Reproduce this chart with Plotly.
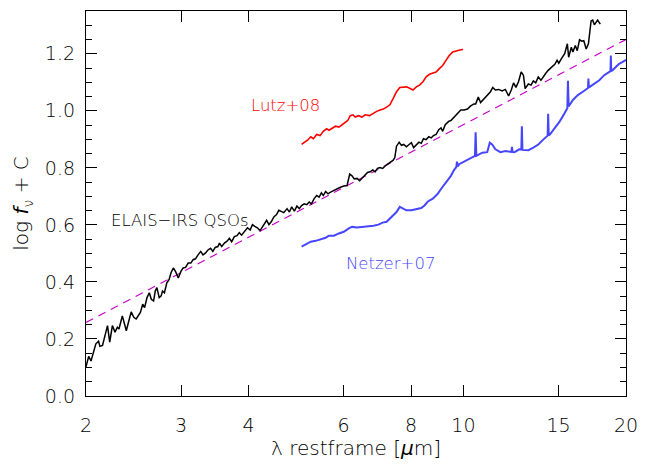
import math
import plotly.graph_objects as go

# ELAIS-IRS QSO composite spectrum (log f_nu + C vs restframe wavelength in micron)
elais_lambda = [
    2.000, 2.023, 2.043, 2.063, 2.086, 2.110, 2.122, 2.146, 2.170, 2.192,
    2.213, 2.238, 2.263, 2.286, 2.302, 2.335, 2.361, 2.375, 2.401, 2.425,
    2.452, 2.477, 2.522, 2.547, 2.568, 2.594, 2.620, 2.642, 2.668, 2.687,
    2.706, 2.733, 2.756, 2.771, 2.794, 2.823, 2.850, 2.874, 2.902, 2.932,
    2.964, 2.998, 3.027, 3.058, 3.092, 3.127, 3.158, 3.190, 3.225, 3.262,
    3.294, 3.327, 3.364, 3.402, 3.435, 3.470, 3.509, 3.534, 3.568, 3.609,
    3.650, 3.686, 3.722, 3.765, 3.808, 3.845, 3.882, 3.927, 3.982, 4.027,
    4.067, 4.108, 4.153, 4.201, 4.242, 4.285, 4.321, 4.363, 4.406, 4.456,
    4.507, 4.551, 4.596, 4.648, 4.713, 4.761, 4.808, 4.863, 4.916, 4.966,
    5.015, 5.072, 5.128, 5.180, 5.231, 5.291, 5.349, 5.403, 5.456, 5.502,
    5.556, 5.612, 5.674, 5.739, 5.819, 5.918, 6.004, 6.088, 6.158, 6.218,
    6.278, 6.350, 6.423, 6.513, 6.576, 6.643, 6.717, 6.793, 6.860, 6.929,
    7.006, 7.086, 7.185, 7.308, 7.413, 7.463, 7.517, 7.603, 7.677, 7.752,
    7.841, 7.931, 8.008, 8.086, 8.179, 8.272, 8.353, 8.434, 8.531, 8.628,
    8.713, 8.798, 8.898, 9.000, 9.088, 9.153, 9.254, 9.388, 9.479, 9.612,
    9.751, 9.888, 10.027, 10.172, 10.314, 10.458, 10.534, 10.654, 10.758, 10.909,
    11.067, 11.222, 11.332, 11.461, 11.622, 11.790, 11.956, 12.124, 12.263, 12.382,
    12.508, 12.646, 12.791, 12.915, 13.008, 13.191, 13.342, 13.472, 13.609, 13.759,
    13.916, 14.052, 14.195, 14.351, 14.559, 14.763, 14.907, 15.015, 15.186, 15.399,
    15.575, 15.661, 15.840, 15.948, 16.110, 16.246, 16.405, 16.564, 16.705, 16.875,
    17.039, 17.234, 17.351, 17.476, 17.601, 17.721, 17.923,
]
elais_logf = [
    0.102, 0.139, 0.123, 0.148, 0.183, 0.192, 0.174, 0.177, 0.212, 0.247,
    0.189, 0.247, 0.224, 0.241, 0.235, 0.281, 0.247, 0.229, 0.264, 0.295,
    0.276, 0.270, 0.293, 0.322, 0.310, 0.345, 0.362, 0.339, 0.333, 0.368,
    0.380, 0.345, 0.351, 0.368, 0.362, 0.397, 0.408, 0.432, 0.449, 0.435,
    0.414, 0.437, 0.449, 0.451, 0.466, 0.466, 0.478, 0.481, 0.495, 0.507,
    0.495, 0.501, 0.512, 0.518, 0.507, 0.521, 0.524, 0.536, 0.524, 0.536,
    0.543, 0.553, 0.541, 0.559, 0.562, 0.573, 0.564, 0.576, 0.590, 0.582,
    0.601, 0.595, 0.590, 0.580, 0.593, 0.605, 0.616, 0.601, 0.611, 0.628,
    0.636, 0.651, 0.648, 0.643, 0.657, 0.645, 0.663, 0.648, 0.666, 0.657,
    0.668, 0.674, 0.671, 0.680, 0.674, 0.692, 0.703, 0.697, 0.712, 0.703,
    0.717, 0.709, 0.715, 0.720, 0.726, 0.732, 0.736, 0.738, 0.778, 0.772,
    0.761, 0.763, 0.755, 0.767, 0.772, 0.784, 0.786, 0.793, 0.786, 0.798,
    0.801, 0.798, 0.809, 0.819, 0.827, 0.836, 0.876, 0.890, 0.879, 0.882,
    0.874, 0.882, 0.888, 0.871, 0.882, 0.890, 0.886, 0.902, 0.899, 0.909,
    0.905, 0.913, 0.917, 0.934, 0.940, 0.928, 0.951, 0.963, 0.966, 0.978,
    0.994, 1.003, 1.003, 1.006, 1.017, 1.024, 1.024, 1.048, 1.029, 1.041,
    1.055, 1.067, 1.082, 1.073, 1.075, 1.070, 1.075, 1.052, 1.073, 1.098,
    1.082, 1.102, 1.136, 1.125, 1.078, 1.094, 1.090, 1.105, 1.098, 1.119,
    1.107, 1.121, 1.131, 1.142, 1.151, 1.163, 1.177, 1.167, 1.183, 1.200,
    1.235, 1.188, 1.223, 1.206, 1.229, 1.211, 1.249, 1.244, 1.246, 1.217,
    1.235, 1.315, 1.318, 1.302, 1.310, 1.318, 1.304,
]

# Lutz et al. 2008 template
lutz_lambda = [
    5.015, 5.072, 5.143, 5.215, 5.275, 5.349, 5.426, 5.502, 5.579, 5.637,
    5.716, 5.795, 5.879, 5.961, 6.044, 6.106, 6.173, 6.244, 6.305, 6.396,
    6.486, 6.576, 6.700, 6.814, 6.909, 7.006, 7.107, 7.206, 7.308, 7.413,
    7.517, 7.622, 7.733, 7.841, 7.951, 8.065, 8.179, 8.293, 8.413, 8.531,
    8.650, 8.775, 8.898, 9.023, 9.153, 9.283, 9.413, 9.550, 9.683, 9.794,
    9.888, 9.986,
]
lutz_logf = [
    0.882, 0.888, 0.897, 0.909, 0.902, 0.917, 0.913, 0.928, 0.937, 0.932,
    0.940, 0.946, 0.943, 0.951, 0.957, 0.966, 0.983, 0.986, 0.978, 0.983,
    0.978, 0.986, 0.983, 0.992, 0.998, 1.003, 1.006, 1.013, 1.021, 1.044,
    1.067, 1.082, 1.082, 1.084, 1.079, 1.073, 1.084, 1.090, 1.102, 1.119,
    1.128, 1.131, 1.136, 1.148, 1.159, 1.177, 1.194, 1.206, 1.209, 1.214,
    1.214, 1.215,
]

# Netzer et al. 2007 template (with fine-structure emission lines)
netzer_lambda = [
    5.015, 5.106, 5.215, 5.326, 5.440, 5.556, 5.637, 5.756, 5.879, 6.004,
    6.132, 6.218, 6.350, 6.532, 6.671, 6.814, 6.959, 7.086, 7.206, 7.360,
    7.517, 7.622, 7.710, 7.841, 8.008, 8.179, 8.353, 8.470, 8.592, 8.775,
    8.962, 9.088, 9.215, 9.348, 9.479, 9.612, 9.700, 9.730, 9.760, 9.819,
    9.961, 10.129, 10.314, 10.503, 10.534, 10.565, 10.836, 11.067, 11.189, 11.303,
    11.461, 11.706, 11.956, 12.211, 12.270, 12.299, 12.330, 12.434, 12.683, 12.800,
    12.829, 12.860, 13.191, 13.472, 13.759, 14.052, 14.255, 14.320, 14.351, 14.385,
    14.455, 14.763, 15.078, 15.399, 15.575, 15.615, 15.661, 15.948, 16.287, 16.634,
    16.946, 17.010, 17.039, 17.070, 17.133, 17.476, 17.848, 18.228, 18.617, 18.720,
    18.750, 18.780, 18.877, 19.150, 19.418, 19.691, 20.000,
]
netzer_logf = [
    0.524, 0.532, 0.541, 0.544, 0.550, 0.555, 0.562, 0.562, 0.570, 0.576,
    0.588, 0.593, 0.591, 0.593, 0.597, 0.597, 0.601, 0.608, 0.611, 0.628,
    0.645, 0.663, 0.657, 0.651, 0.651, 0.654, 0.659, 0.668, 0.682, 0.692,
    0.709, 0.726, 0.740, 0.755, 0.772, 0.793, 0.803, 0.822, 0.805, 0.813,
    0.819, 0.824, 0.833, 0.842, 0.925, 0.842, 0.853, 0.855, 0.888, 0.882,
    0.865, 0.855, 0.859, 0.855, 0.856, 0.874, 0.856, 0.855, 0.865, 0.864,
    0.946, 0.863, 0.862, 0.871, 0.882, 0.899, 0.911, 0.913, 0.990, 0.914,
    0.917, 0.940, 0.963, 0.992, 1.009, 1.105, 1.015, 1.038, 1.055, 1.067,
    1.079, 1.080, 1.113, 1.082, 1.084, 1.094, 1.107, 1.125, 1.136, 1.139,
    1.194, 1.140, 1.142, 1.154, 1.165, 1.171, 1.179,
]

# Power-law reference: log f_nu rises ~1 dex per dex in wavelength
powerlaw_lambda = [2.0, 20.0]
powerlaw_logf = [0.258, 1.250]

x_tickvals = [2, 3, 4, 6, 8, 10, 15, 20]
x_ticktext = ["2", "3", "4", "6", "8", "10", "15", "20"]

# Curve labels: text, left-edge wavelength, log f_nu
label_text = ["Lutz+08", "ELAIS\u2212IRS QSOs", "Netzer+07"]
label_lambda = [4.00, 2.204, 6.01]
label_logf = [1.017, 0.614, 0.466]

FONT = "DejaVu Sans"
WEIGHT = 200
INK = "#000000"
BLUE = "#4646FF"
RED = "#FF0000"
MAGENTA = "#C800C8"
label_color = [RED, INK, BLUE]

fig = go.Figure()

fig.add_trace(go.Scatter(
    x=powerlaw_lambda, y=powerlaw_logf, mode="lines",
    line=dict(color=MAGENTA, width=1.2, dash="8px,6px"),
    hoverinfo="skip",
))
fig.add_trace(go.Scatter(
    x=netzer_lambda, y=netzer_logf, mode="lines",
    line=dict(color=BLUE, width=2),
))
fig.add_trace(go.Scatter(
    x=lutz_lambda, y=lutz_logf, mode="lines",
    line=dict(color=RED, width=1.6),
))
fig.add_trace(go.Scatter(
    x=elais_lambda, y=elais_logf, mode="lines",
    line=dict(color="#000000", width=1.5),
))

# annotation x on a log axis is given in log10 units
for text, lx, ly, col in zip(label_text, label_lambda, label_logf, label_color):
    fig.add_annotation(
        x=math.log10(lx), y=ly, xref="x", yref="y", text=text, showarrow=False,
        xanchor="left", yanchor="middle",
        font=dict(family=FONT, size=16.5, color=col, weight=WEIGHT),
    )

fig.update_layout(
    width=648, height=464,
    margin=dict(l=86, r=16, t=10, b=64, pad=0),
    paper_bgcolor="white", plot_bgcolor="white",
    showlegend=False,
    font=dict(family=FONT, size=19, color=INK, weight=WEIGHT),
)

fig.update_xaxes(
    type="log", range=[0.30103, 1.30103],
    tickvals=x_tickvals, ticktext=x_ticktext,
    ticks="inside", ticklen=11, tickwidth=1, tickcolor=INK,
    showline=True, linecolor=INK, linewidth=1.3, mirror="ticks",
    showgrid=False, zeroline=False,
    ticklabelstandoff=12,
    tickfont=dict(family=FONT, size=19, color=INK, weight=WEIGHT),
    title=dict(text="\u03bb restframe [<i>\u03bc</i>m]",
               font=dict(family=FONT, size=20, color=INK, weight=WEIGHT), standoff=4),
)

fig.update_yaxes(
    range=[0, 1.35], tick0=0, dtick=0.2, tickformat=".1f",
    ticks="inside", ticklen=11, tickwidth=1, tickcolor=INK,
    minor=dict(dtick=0.05, ticks="inside", ticklen=5.5, tickcolor=INK, showgrid=False),
    showline=True, linecolor=INK, linewidth=1.3, mirror="ticks",
    showgrid=False, zeroline=False,
    ticklabelstandoff=6,
    tickfont=dict(family=FONT, size=19, color=INK, weight=WEIGHT),
    title=dict(text="log <i>f</i><sub>\u03bd</sub> + C",
               font=dict(family=FONT, size=20, color=INK, weight=WEIGHT), standoff=10),
)

fig.write_html("out.html")
